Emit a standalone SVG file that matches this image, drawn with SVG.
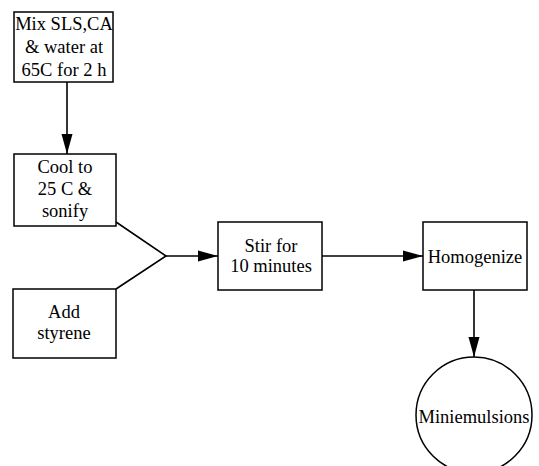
<svg xmlns="http://www.w3.org/2000/svg" width="539" height="466" viewBox="0 0 539 466">
<defs>
<marker id="ah" markerWidth="20" markerHeight="12" refX="20" refY="6" orient="auto" markerUnits="userSpaceOnUse">
<path d="M0,0.5 L20,6 L0,11.5 Z" fill="#000"/>
</marker>
<style>
.box{fill:#fff;stroke:#000;stroke-width:1.5}
.t{font-family:"Liberation Serif","Times New Roman",serif;font-size:18.5px;fill:#000;text-anchor:middle}
.ln{fill:none;stroke:#000;stroke-width:1.6}
</style>
</defs>
<rect width="539" height="466" fill="#fff"/>
<g id="connectors">
<line class="ln" x1="67" y1="82" x2="67" y2="154" marker-end="url(#ah)"/>
<polyline class="ln" points="116,222 166,256 116,289"/>
<line class="ln" x1="166" y1="256" x2="218" y2="256" marker-end="url(#ah)"/>
<line class="ln" x1="322" y1="256" x2="423" y2="256" marker-end="url(#ah)"/>
<line class="ln" x1="474" y1="290" x2="474" y2="357" marker-end="url(#ah)"/>
</g>
<g id="mix">
<rect class="box" x="14" y="12" width="99" height="70"/>
<text class="t" x="64" y="30">Mix SLS,CA</text>
<text class="t" x="64" y="53">&amp; water at</text>
<text class="t" x="64" y="76">65C for 2 h</text>
</g>
<g id="cool">
<rect class="box" x="14" y="154" width="102" height="72"/>
<text class="t" x="65" y="173">Cool to</text>
<text class="t" x="65" y="195">25 C &amp;</text>
<text class="t" x="65" y="217">sonify</text>
</g>
<g id="styrene">
<rect class="box" x="13" y="289" width="103" height="69"/>
<text class="t" x="64" y="318">Add</text>
<text class="t" x="64" y="339">styrene</text>
</g>
<g id="stir">
<rect class="box" x="218" y="222" width="104" height="68"/>
<text class="t" x="271" y="252">Stir for</text>
<text class="t" x="271" y="272">10 minutes</text>
</g>
<g id="homogenize">
<rect class="box" x="423" y="222" width="104" height="68"/>
<text class="t" x="475" y="263">Homogenize</text>
</g>
<g id="miniemulsions">
<circle class="box" cx="474" cy="415" r="58"/>
<text class="t" x="474" y="423">Miniemulsions</text>
</g>
</svg>
